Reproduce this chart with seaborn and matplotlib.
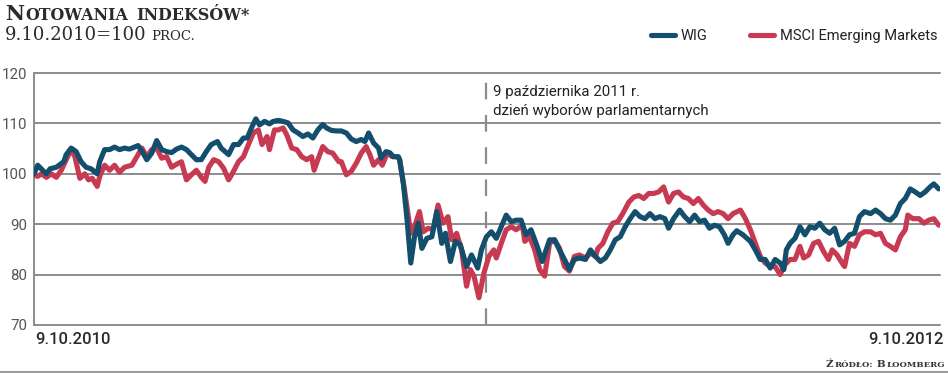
import numpy as np
import pandas as pd
import matplotlib
matplotlib.use("Agg")
import matplotlib.pyplot as plt
from matplotlib.lines import Line2D
import seaborn as sns

# ---------------- data (days since 9.10.2010, index 9.10.2010 = 100) ----------------
wig_days = [0, 3, 7, 10, 13, 18, 24, 26, 30, 34, 38, 42, 46, 51, 53, 57, 61, 65, 69, 73,
            77, 81, 84, 88, 91, 95, 99, 103, 107, 111, 115, 119, 123, 127, 131, 135, 139, 143, 148, 151,
            157, 161, 165, 169, 172, 176, 179, 182, 186, 190, 193, 197, 201, 205, 209, 213, 217, 221, 225, 229,
            233, 236, 240, 244, 248, 252, 256, 260, 264, 267, 270, 274, 278, 280, 284, 287, 290, 294, 295, 298,
            301, 304,
            307, 310, 313, 317, 321, 325, 329, 332, 336, 340, 344, 349, 353, 358, 361, 365, 369, 373, 377, 381,
            385, 389, 393, 397, 401, 406, 410,
            416, 420, 424, 428, 432, 436, 440, 445, 449, 453, 457, 461, 465, 469, 473, 477, 481, 485, 489, 493,
            497, 501, 505, 509, 512, 516, 521, 525, 529, 533, 537, 541, 545, 549, 553, 557, 560, 564,
            567, 572, 578, 582, 586, 590, 594, 598, 602, 605, 607, 610, 614, 618, 622, 626, 630, 634, 638, 642,
            646, 650, 654, 658, 662, 666, 670, 675, 679, 683, 687, 691, 695, 699, 703, 707, 711, 715, 719, 723,
            726, 730]
wig_values = [100, 101.7, 100.7, 100, 101, 101.3, 102.4, 103.8, 105.1, 104.4,
              102.4, 101.3, 101, 100, 102.4, 104.8, 104.8, 105.3, 104.8, 105.1,
              104.9, 105.3, 105.6, 104.1, 102.8, 104.1, 106.6, 104.8, 104.4, 104.2,
              104.9, 105.3, 104.8, 103.8, 102.8, 102.8, 104.4, 105.8, 106.4, 105.1,
              103.8, 105.8, 105.8, 107.1, 107.1, 109.4, 110.9, 109.7, 110.4, 109.9,
              110.4, 110.6, 110.4, 110.1, 108.7, 108.1, 107.4, 107.9, 107.1, 108.7,
              109.8, 109.1, 108.6, 108.5, 108.5, 108.1, 106.9, 106.4, 106.8, 106.4,
              108.1, 106.1, 105.1, 103.1, 104.4, 104.2, 103.4, 103.4, 102.8, 98.1,
              90.9, 82.3,
              87.5, 90.2, 85.2, 87.2, 87.5, 92.5, 86.2, 88.2, 82.6, 86.6,
              85.9, 81.6, 83.9, 81.3, 84.9, 87.5, 88.5, 87.2, 89.5, 91.8,
              90.5, 90.8, 90.8, 87.9, 88.9, 85.6, 82.6,
              86.9, 86.9, 84.9, 83, 81, 83, 83.3, 83, 84.9, 83.6,
              82.6, 83.3, 84.9, 86.9, 87.5, 89.5, 91.1, 92.5, 91.5, 91.1,
              92.1, 91.1, 91.5, 91.1, 89.2, 91.1, 92.8, 91.5, 90.5, 91.8,
              90.5, 90.8, 89.2, 89.8, 89.5, 87.9, 86.2, 87.9,
              88.7, 87.9, 86.6, 84.9, 83, 83, 81.3, 83, 82.3, 81,
              84.9, 86.2, 87.2, 89.5, 87.9, 89.5, 89.2, 90.2, 88.9, 88.2,
              89.2, 85.9, 86.6, 87.9, 88.2, 91.5, 92.5, 92.1, 92.8, 92.1,
              91.1, 90.8, 91.8, 94.1, 95.1, 97, 96.4, 95.7, 96.4, 97.4,
              98, 97]

msci_days = [0, 3, 6, 10, 14, 18, 22, 26, 30, 33, 37, 41, 44, 47, 51, 53, 57, 61, 65, 69,
             73, 79, 83, 87, 91, 95, 99, 103, 107, 111, 115, 119, 123, 127, 131, 135, 138, 141, 145, 149,
             153, 157, 161, 165, 169, 173, 177, 181, 184, 188, 190, 194, 197, 201, 204, 208, 212, 216, 220, 224,
             226, 229, 233, 237, 241, 246, 248, 252, 256, 260, 264, 268, 271, 274, 278, 281, 285, 289, 293, 295,
             299, 304, 307, 311, 314, 318, 322, 326, 330, 334, 337, 341, 345, 349, 352, 355, 359, 363, 367, 371,
             373, 377, 381, 385, 389, 394, 396, 400, 404, 408, 412,
             416, 420, 424, 428, 432, 436, 440, 445, 449, 453, 455, 459, 463, 467, 471, 475, 480, 484, 488, 492,
             496, 500, 504, 508, 512, 516, 520, 524, 528, 532, 536, 540, 544, 548, 552, 556, 560, 564,
             570, 574, 578, 582, 586, 590, 594, 598, 602, 606, 610, 614, 618, 621, 625, 629, 633, 637, 641, 644,
             648, 652, 654, 658, 662, 666, 670, 675, 679, 683, 687, 691, 695, 699, 703, 705, 709, 714, 718, 722,
             726, 730]
msci_values = [99.7, 99.5, 100, 99.3, 100, 99.3, 100.7, 102.8, 104.8, 103.4,
               99.1, 100, 98.8, 99.1, 97.5, 99.5, 101.7, 100.7, 101.7, 100.3,
               101.3, 101.7, 103.4, 105.1, 103.4, 104.8, 105.1, 103.1, 103.4, 101.3,
               101.9, 102.4, 98.8, 99.8, 100.7, 99.3, 98.5, 101.3, 102.8, 102.4,
               101.1, 98.8, 100.5, 102.4, 103.4, 105.8, 108.1, 108.7, 105.8, 107.4,
               104.8, 108.7, 108.7, 109.1, 107.7, 105.1, 104.8, 103.4, 102.8, 103.4,
               100.7, 102.8, 105.4, 104.4, 104.1, 102.4, 102.4, 99.8, 100.5, 102.1,
               104.1, 105.4, 103.8, 101.7, 102.8, 101.7, 104.1, 103.4, 103.4, 102.8,
               96.7, 88.2, 89.5, 92.5, 88.5, 89.2, 88.9, 93.8, 90.2, 91.5,
               86.9, 88.2, 84.9, 77.7, 81, 79.7, 75.4, 80.3, 83.6, 84.9,
               83.3, 86.2, 88.9, 89.5, 88.9, 89.8, 86.6, 87.5, 84.9, 81,
               79.7,
               86.2, 86.9, 85.2, 81.6, 80.7, 83.6, 83.9, 83.3, 84.3, 83.6,
               85.2, 86.2, 88.5, 90.2, 90.5, 92.1, 94.4, 95.4, 95.7, 95.1,
               96.1, 96.1, 96.4, 97.4, 94.4, 96.1, 96.4, 95.4, 95.1, 94.1,
               95.1, 93.8, 92.8, 92.1, 92.5, 92.1, 91.1, 92.1,
               92.8, 91.1, 88.9, 86.2, 83.6, 82.3, 81.6, 81.6, 80, 82,
               83, 83, 85.6, 83.3, 83.9, 86.2, 86.6, 84.6, 83, 84.9,
               83.9, 82.3, 81.6, 86.2, 85.6, 87.9, 88.5, 88.5, 87.9, 88.2,
               86.2, 85.6, 84.9, 87.5, 88.9, 91.8, 91.1, 91.1, 90.2, 90.8,
               91.1, 89.8]

series_names = ["WIG", "MSCI Emerging Markets"]
y_ticks = [70, 80, 90, 100, 110, 120]
start_label = "9.10.2010"
end_label = "9.10.2012"
event_lines = ["9 października 2011 r.", "dzień wyborów parlamentarnych"]
title_text = "Notowania indeksów*"
subtitle_num = "9.10.2010=100"
subtitle_unit = "proc."
source_text = "Źródło: Bloomberg"

START = pd.Timestamp("2010-10-09")
END = pd.Timestamp("2012-10-09")
EVENT = pd.Timestamp("2011-10-09")

WIG_C = "#134f6d"
MSCI_C = "#c73a52"
GRID_C = "#8c8c8c"

# ---------------- figure ----------------
sns.set_style("white")
plt.rcParams["font.family"] = ["Roboto", "DejaVu Sans"]

W, H = 948, 373
fig = plt.figure(figsize=(W / 100, H / 100), dpi=100)
fig.patch.set_facecolor("white")
ax = fig.add_axes([34 / W, 1 - 325 / H, (940 - 34) / W, (325 - 73) / H])

df_wig = pd.DataFrame({"date": START + pd.to_timedelta(wig_days, unit="D"), "value": wig_values})
df_msci = pd.DataFrame({"date": START + pd.to_timedelta(msci_days, unit="D"), "value": msci_values})

for yv in y_ticks:
    ax.axhline(yv, color=GRID_C, lw=1.4, zorder=0, clip_on=False)

ax.axvline(EVENT, color=GRID_C, lw=1.6, dashes=(7.5, 7), zorder=1)

sns.lineplot(data=df_msci, x="date", y="value", ax=ax, color=MSCI_C, lw=3.7,
             solid_capstyle="round", solid_joinstyle="round", zorder=3, legend=False)
sns.lineplot(data=df_wig, x="date", y="value", ax=ax, color=WIG_C, lw=3.7,
             solid_capstyle="round", solid_joinstyle="round", zorder=4, legend=False)

ax.set_xlim(START, END)
ax.set_ylim(70, 120)
ax.set_yticks(y_ticks)
ax.set_xticks([])
ax.set_xlabel("")
ax.set_ylabel("")
ax.tick_params(axis="y", length=0, pad=5, labelsize=10.8, labelcolor="#555555")
for s in ["top", "right", "bottom"]:
    ax.spines[s].set_visible(False)
ax.spines["left"].set_color(GRID_C)
ax.spines["left"].set_linewidth(1.4)
ax.set_facecolor("white")

# x end labels
fig.text(35 / W, 1 - 344 / H, start_label, ha="left", va="baseline", fontsize=12,
         fontweight="medium", color="#2a2a2a")
fig.text(944 / W, 1 - 344 / H, end_label, ha="right", va="baseline", fontsize=12,
         fontweight="medium", color="#2a2a2a")

# event annotation
fig.text(493 / W, 1 - 96 / H, event_lines[0], ha="left", va="baseline", fontsize=10.8, color="#222222")
fig.text(493 / W, 1 - 115 / H, event_lines[1], ha="left", va="baseline", fontsize=10.8, color="#222222")

# legend
handles = [Line2D([0], [0], color=WIG_C, lw=3.7, solid_capstyle="round"),
           Line2D([0], [0], color=MSCI_C, lw=3.7, solid_capstyle="round")]
fig.legend(handles, series_names, loc="center right", bbox_to_anchor=(937 / W, 1 - 36 / H),
           ncol=2, frameon=False, fontsize=10.5, handlelength=1.65, handletextpad=0.4,
           columnspacing=2.9, borderaxespad=0, borderpad=0, labelcolor="#222222")

# ---------------- small caps helper ----------------
renderer = fig.canvas.get_renderer()


def text_width(s, size, **kw):
    t = fig.text(0, 0, s, fontsize=size, **kw)
    w = t.get_window_extent(renderer=renderer).width
    t.remove()
    return w


def small_caps(x_px, base_px, s, big, small, ha="left", gap=0.8, **kw):
    runs = []
    for ch in s:
        if ch == " ":
            runs.append(("space", " "))
            continue
        if ch.isalpha():
            key = "small" if ch.islower() else "big"
        else:
            # punctuation stays with the run it follows
            key = runs[-1][0] if runs and runs[-1][0] != "space" else "big"
        if runs and runs[-1][0] == key:
            runs[-1] = (key, runs[-1][1] + ch)
        else:
            runs.append((key, ch))
    cx = x_px
    objs = []
    for key, txt in runs:
        if key == "space":
            cx += text_width("N N", big, **kw) - text_width("NN", big, **kw)
            continue
        size = small if key == "small" else big
        t = fig.text(cx / W, 1 - base_px / H, txt.upper(), fontsize=size, ha="left", va="baseline", **kw)
        cx += t.get_window_extent(renderer=renderer).width + gap
        objs.append(t)
    if ha == "right":
        shift = x_px - cx
        for t in objs:
            px, py = t.get_position()
            t.set_position((px + shift / W, py))
    return cx


serif = dict(family=["DejaVu Serif"], color="#2b2b2b")
small_caps(5, 20, title_text, 15, 11.4, gap=1.2, fontweight="bold", **serif)

fig.text(5 / W, 1 - 40 / H, subtitle_num, fontsize=13, ha="left", va="baseline",
         family=["DejaVu Serif"], color="#2b2b2b")
wsub = text_width(subtitle_num, 13, family=["DejaVu Serif"])
small_caps(5 + wsub + 5, 40, subtitle_unit, 13, 9.5, **serif)

small_caps(946, 367, source_text, 7.4, 6.1, ha="right", gap=0.9, family=["DejaVu Serif"],
           color="#333333", fontweight="bold")

# frame line at bottom of the graphic
fig.add_artist(Line2D([0, 1], [1 - 372 / H, 1 - 372 / H], transform=fig.transFigure,
                      color="#9a9a9a", lw=1.5))

fig.savefig("out.png", dpi=100, facecolor="white")
